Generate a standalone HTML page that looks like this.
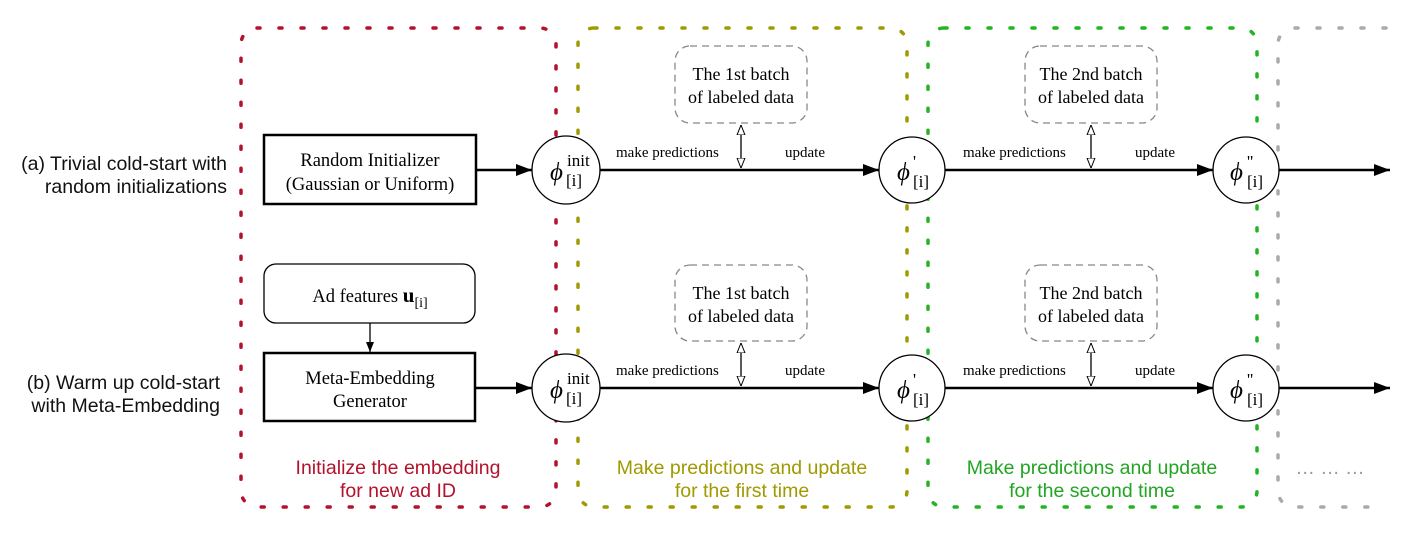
<!DOCTYPE html>
<html><head><meta charset="utf-8"><style>
html,body{margin:0;padding:0;background:#fff;}
svg{display:block;}
.s{font-family:"Liberation Serif",serif;}
.a{font-family:"Liberation Sans",sans-serif;}
</style></head><body>
<svg width="1408" height="535" viewBox="0 0 1408 535" xmlns="http://www.w3.org/2000/svg">
<defs>
<marker id="ah" markerWidth="10" markerHeight="8" refX="10" refY="4" orient="auto" markerUnits="userSpaceOnUse"><path d="M0,0 L10,4 L0,8 Z" fill="#000"/></marker>
<marker id="ah2" markerWidth="16" markerHeight="12" refX="16" refY="6" orient="auto" markerUnits="userSpaceOnUse"><path d="M0,0 L16,6 L0,12 Z" fill="#000"/></marker>
<marker id="oh" markerWidth="10" markerHeight="10" refX="10" refY="5" orient="auto" markerUnits="userSpaceOnUse"><path d="M0,1 L10,5 L0,9 Z" fill="#fff" stroke="#000" stroke-width="1"/></marker>
<marker id="ohs" markerWidth="10" markerHeight="10" refX="0" refY="5" orient="auto" markerUnits="userSpaceOnUse"><path d="M10,1 L0,5 L10,9 Z" fill="#fff" stroke="#000" stroke-width="1"/></marker>
</defs>
<g fill="none" stroke-width="3.5" stroke-linecap="round" stroke-dasharray="3 19">
<rect x="241" y="28" width="315" height="479" rx="16" stroke="#b3122c"/>
<rect x="578" y="28" width="329" height="479" rx="16" stroke="#a09a00"/>
<rect x="928" y="28" width="329" height="479" rx="16" stroke="#22b522"/>
<path d="M1386,28 H1294 A16,16 0 0 0 1278,44 V491 A16,16 0 0 0 1294,507 H1386" stroke="#aaaaaa"/>
</g>
<g class="a" font-size="19.5" fill="#111" text-anchor="end">
<text x="227" y="170">(a) Trivial cold-start with</text>
<text x="227" y="193">random initializations</text>
<text x="220" y="389">(b) Warm up cold-start</text>
<text x="220" y="412">with Meta-Embedding</text>
</g>
<g class="a" font-size="19.5" text-anchor="middle">
<text x="398" y="474" fill="#b3122c">Initialize the embedding</text>
<text x="398" y="497" fill="#b3122c">for new ad ID</text>
<text x="742" y="474" fill="#a09a00">Make predictions and update</text>
<text x="742" y="497" fill="#a09a00">for the first time</text>
<text x="1092" y="474" fill="#22a522">Make predictions and update</text>
<text x="1092" y="497" fill="#22a522">for the second time</text>
<text x="1330" y="474" fill="#999">… … …</text>
</g>
<g stroke="#000" fill="#fff">
<rect x="264" y="135" width="212" height="69" stroke-width="2.5"/>
<rect x="264" y="264" width="211" height="59" rx="12" stroke-width="1.3"/>
<rect x="264" y="353" width="211" height="68" stroke-width="2.5"/>
</g>
<g class="s" font-size="18.5" text-anchor="middle" fill="#000">
<text x="370" y="166">Random Initializer</text>
<text x="370" y="190">(Gaussian or Uniform)</text>
<text x="370" y="302">Ad features <tspan font-weight="bold" font-size="21">u</tspan><tspan font-size="14" dy="5">[i]</tspan></text>
<text x="370" y="384">Meta-Embedding</text>
<text x="370" y="407">Generator</text>
</g>
<line x1="370" y1="323" x2="370" y2="352" stroke="#000" stroke-width="1.3" marker-end="url(#ah)"/>
<g stroke="#000" stroke-width="2.5">
<line x1="476" y1="170" x2="532" y2="170" marker-end="url(#ah2)"/>
<line x1="476" y1="388" x2="532" y2="388" marker-end="url(#ah2)"/>
<line x1="600" y1="170" x2="879" y2="170" marker-end="url(#ah2)"/>
<line x1="600" y1="388" x2="879" y2="388" marker-end="url(#ah2)"/>
<line x1="945" y1="170" x2="1213" y2="170" marker-end="url(#ah2)"/>
<line x1="945" y1="388" x2="1213" y2="388" marker-end="url(#ah2)"/>
<line x1="1279" y1="170" x2="1390" y2="170" marker-end="url(#ah2)"/>
<line x1="1279" y1="388" x2="1390" y2="388" marker-end="url(#ah2)"/>
</g>
<g stroke="#000" stroke-width="1.3" fill="#fff">
<circle cx="566" cy="170" r="34"/><circle cx="912" cy="170" r="33"/><circle cx="1246" cy="170" r="33"/>
<circle cx="566" cy="388" r="34"/><circle cx="912" cy="388" r="33"/><circle cx="1246" cy="388" r="33"/>
</g>
<g class="s" fill="#000">
<g font-size="15" text-anchor="start">
<text x="616" y="157">make predictions</text><text x="785" y="157">update</text>
<text x="963" y="157">make predictions</text><text x="1135" y="157">update</text>
<text x="616" y="375">make predictions</text><text x="785" y="375">update</text>
<text x="963" y="375">make predictions</text><text x="1135" y="375">update</text>
</g>
<g font-size="25" font-style="italic">
<text x="550" y="180">ϕ</text><text x="550" y="398">ϕ</text>
<text x="897" y="180">ϕ</text><text x="897" y="398">ϕ</text>
<text x="1230" y="180">ϕ</text><text x="1230" y="398">ϕ</text>
</g>
<g font-size="17">
<text x="567" y="166">init</text><text x="567" y="384">init</text>
<text x="566" y="186">[i]</text><text x="566" y="404">[i]</text>
<text x="913" y="167">'</text><text x="913" y="385">'</text>
<text x="913" y="187">[i]</text><text x="913" y="405">[i]</text>
<text x="1247" y="167">''</text><text x="1247" y="385">''</text>
<text x="1247" y="187">[i]</text><text x="1247" y="405">[i]</text>
</g>
</g>
<g fill="none" stroke="#888" stroke-width="1.3" stroke-dasharray="7 5">
<rect x="675" y="46" width="132" height="77" rx="15"/>
<rect x="1025" y="46" width="132" height="77" rx="15"/>
<rect x="675" y="265" width="132" height="76" rx="15"/>
<rect x="1025" y="265" width="132" height="76" rx="15"/>
</g>
<g class="s" font-size="18" text-anchor="middle" fill="#000">
<text x="741" y="80">The 1st batch</text><text x="741" y="103">of labeled data</text>
<text x="1091" y="80">The 2nd batch</text><text x="1091" y="103">of labeled data</text>
<text x="741" y="299">The 1st batch</text><text x="741" y="322">of labeled data</text>
<text x="1091" y="299">The 2nd batch</text><text x="1091" y="322">of labeled data</text>
</g>
<g stroke="#000" stroke-width="1.3">
<line x1="741" y1="125" x2="741" y2="168" marker-start="url(#ohs)" marker-end="url(#oh)"/>
<line x1="1091" y1="125" x2="1091" y2="168" marker-start="url(#ohs)" marker-end="url(#oh)"/>
<line x1="741" y1="343" x2="741" y2="386" marker-start="url(#ohs)" marker-end="url(#oh)"/>
<line x1="1091" y1="343" x2="1091" y2="386" marker-start="url(#ohs)" marker-end="url(#oh)"/>
</g>
</svg>
</body></html>
